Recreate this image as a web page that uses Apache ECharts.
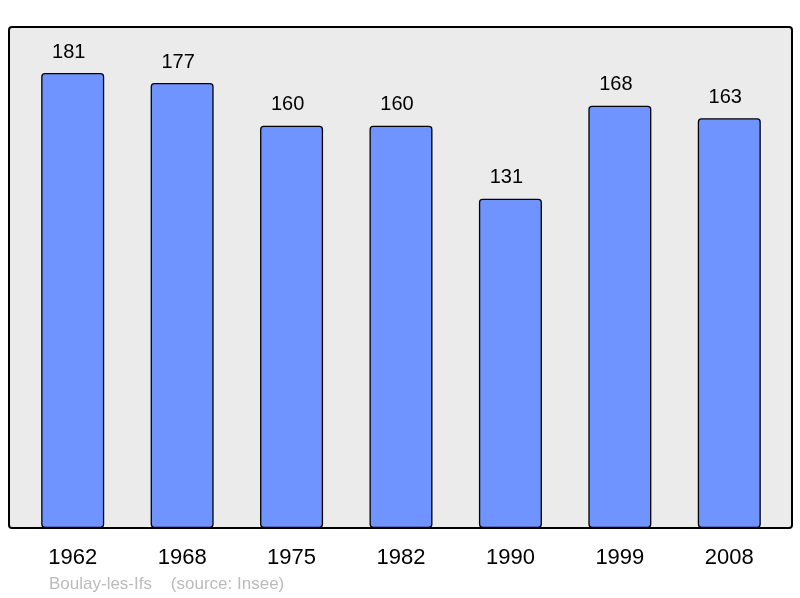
<!DOCTYPE html>
<html><head><meta charset="UTF-8">
<title>Population</title>
<script src="https://cdn.jsdelivr.net/npm/echarts@6/dist/echarts.min.js"></script>
<style>body{margin:0;background:#fff}</style>
</head>
<body>
<div id="g1" style="width:800px;height:598px;"></div>
<script type="text/javascript">
var years = ['1962', '1968', '1975', '1982', '1990', '1999', '2008'];
var population = [181, 177, 160, 160, 131, 168, 163];
var footer = 'Boulay-les-Ifs    (source: Insee)';

var myChart = echarts.init(document.getElementById('g1'));
var option = {
    animation: false,
    graphic: [
        {type: 'rect', z: -10, shape: {x: 9, y: 27, width: 783, height: 501, r: 3},
         style: {fill: '#ebebeb', stroke: '#000', lineWidth: 2}},
        {type: 'text', left: 49, top: 576,
         style: {text: footer, fill: '#bbbbbb', font: '17px "Liberation Sans", Arial, sans-serif'}}
    ],
    grid: {left: 18, right: 16, top: 27, bottom: 70},
    xAxis: {
        type: 'category',
        data: years,
        axisLine: {show: false},
        axisTick: {show: false},
        axisLabel: {color: '#000', fontSize: 22, margin: 19, fontFamily: '"Liberation Sans", Arial, sans-serif'}
    },
    yAxis: {
        type: 'value', min: 0, max: 199.3,
        show: false, splitLine: {show: false}
    },
    series: [{
        type: 'bar',
        data: population,
        barWidth: 63,
        itemStyle: {color: '#7094ff', borderColor: '#000', borderWidth: 1.3, borderRadius: 3},
        label: {show: true, position: 'top', distance: 11, offset: [-4, 0], color: '#000', fontSize: 20,
                fontFamily: '"Liberation Sans", Arial, sans-serif'}
    }]
};
myChart.setOption(option);
</script>
</body></html>
